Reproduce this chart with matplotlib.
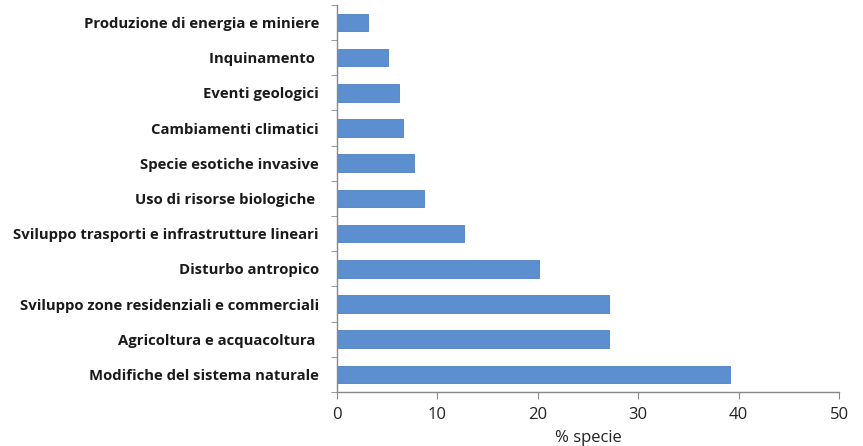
import matplotlib
matplotlib.use("Agg")
import matplotlib.pyplot as plt
import numpy as np

# threats, bottom to top
categories = [
    "Modifiche del sistema naturale",
    "Agricoltura e acquacoltura ",
    "Sviluppo zone residenziali e commerciali",
    "Disturbo antropico",
    "Sviluppo trasporti e infrastrutture lineari",
    "Uso di risorse biologiche ",
    "Specie esotiche invasive",
    "Cambiamenti climatici",
    "Eventi geologici",
    "Inquinamento ",
    "Produzione di energia e miniere",
]
values = [39.1, 27.1, 27.1, 20.1, 12.6, 8.7, 7.7, 6.6, 6.2, 5.1, 3.1]
xticks = [0, 10, 20, 30, 40, 50]

plt.rcParams["font.family"] = ["Open Sans", "DejaVu Sans"]

fig = plt.figure(figsize=(8.63, 4.46), dpi=100)
ax = fig.add_axes([0.3905, 0.121, 0.5817, 0.868])

y = np.arange(len(categories))
ax.barh(y, values, height=0.5, color="#5b8fcf", edgecolor="#4f7fbf", linewidth=0.6)

ax.set_xlim(0, 50)
ax.set_ylim(-0.5, len(categories) - 0.5)
ax.set_xticks(xticks)
ax.set_xticklabels([str(t) for t in xticks], fontsize=12, color="#222222")
ax.set_yticks(y)
ax.set_yticklabels(categories, fontsize=10.7, fontweight="bold", color="#1a1a1a")
ax.set_yticks(np.arange(-0.5, len(categories), 1), minor=True)

ax.tick_params(axis="x", direction="out", length=5, color="#888888", pad=6)
ax.tick_params(axis="y", which="major", length=0, pad=13)
ax.tick_params(axis="y", which="minor", direction="out", length=4, color="#888888")

for s in ["top", "right"]:
    ax.spines[s].set_visible(False)
for s in ["left", "bottom"]:
    ax.spines[s].set_color("#888888")
    ax.spines[s].set_linewidth(1.0)

ax.set_xlabel("% specie", fontsize=12, color="#222222", labelpad=5)

fig.savefig("out.png", dpi=100)
